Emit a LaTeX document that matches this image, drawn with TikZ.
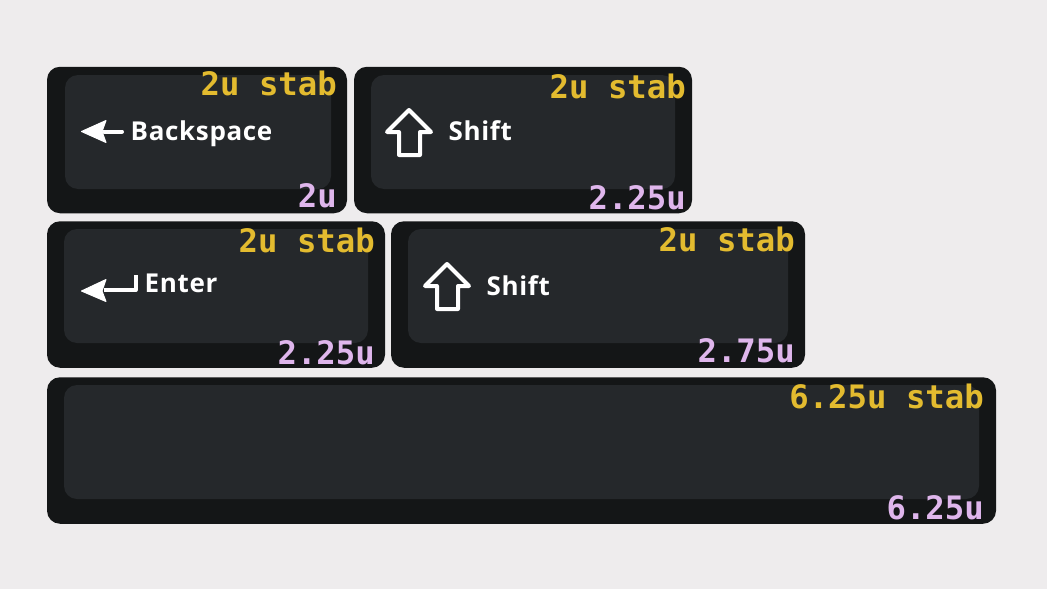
\documentclass[tikz,border=0pt]{standalone}
\usepackage{fontspec}
\setmainfont{Open Sans}[LetterSpace=2.5]
\newfontfamily\stabfont{DejaVu Sans Mono}
\definecolor{pagebg}{HTML}{EEECED}
\definecolor{capedge}{HTML}{141617}
\definecolor{captop}{HTML}{25282B}
\definecolor{stabcol}{HTML}{E3BB2F}
\definecolor{sizecol}{HTML}{DFB6EC}
\tikzset{
    keycap/.style={fill=capedge, rounded corners=13pt, inner sep=0pt, minimum height=146.5pt},
    keytop/.style={fill=captop, rounded corners=13pt, inner sep=0pt, minimum height=114pt},
    stablabel/.style={anchor=base east, inner sep=0pt, text=stabcol, font=\stabfont\bfseries\fontsize{32.3}{32}\selectfont},
    sizelabel/.style={anchor=base east, inner sep=0pt, text=sizecol, font=\stabfont\bfseries\fontsize{32.3}{32}\selectfont},
    keyname/.style={anchor=base west, inner sep=0pt, text=white, font=\bfseries\fontsize{26}{26}\selectfont},
    glyph/.style={draw=white, line width=4pt, line join=round},
    glyphhead/.style={fill=white, draw=white, line width=1pt, line join=round},
}
\begin{document}
\begin{tikzpicture}[x=1pt, y=-1pt]
    \useasboundingbox[fill=pagebg] (0,0) rectangle (1047,589);
    % key bodies
    \node[keycap, minimum width=300pt] (bkspcap) at (197,140) {};
    \node[keytop, minimum width=266pt] (bksptop) at (198,132) {};
    \node[keycap, minimum width=338pt] (lshiftcap) at (523,140) {};
    \node[keytop, minimum width=304pt] (lshifttop) at (523,132) {};
    \node[keycap, minimum width=338pt] (entercap) at (216,294.5) {};
    \node[keytop, minimum width=304pt] (entertop) at (216,286) {};
    \node[keycap, minimum width=414pt] (rshiftcap) at (598,294.5) {};
    \node[keytop, minimum width=380pt] (rshifttop) at (598,286) {};
    \node[keycap, minimum width=949pt] (spacecap) at (521.5,450.5) {};
    \node[keytop, minimum width=915pt] (spacetop) at (521.5,442) {};
    % stabilizer sizes
    \node[stablabel] (bkspstab) at (337,95) {2u stab};
    \node[stablabel] (lshiftstab) at (686,98) {2u stab};
    \node[stablabel] (enterstab) at (375,252) {2u stab};
    \node[stablabel] (rshiftstab) at (795,251) {2u stab};
    \node[stablabel] (spacestab) at (984,408) {6.25u stab};
    % key sizes
    \node[sizelabel] (bkspsize) at (337,207) {2u};
    \node[sizelabel] (lshiftsize) at (686,209) {2.25u};
    \node[sizelabel] (entersize) at (375,364) {2.25u};
    \node[sizelabel] (rshiftsize) at (795,362.5) {2.75u};
    \node[sizelabel] (spacesize) at (984,519) {6.25u};
    % legends
    \node[keyname] (bkspname) at (130.5,140) {Backspace};
    \node[keyname] (lshiftname) at (448.5,140) {Shift};
    \node[keyname] (entername) at (144.5,292) {Enter};
    \node[keyname] (rshiftname) at (486.5,295) {Shift};
    % glyphs
    \draw[glyph, line cap=round] (104,131.5) -- (122,131.5);
    \draw[glyphhead] (81.5,131.5) -- (106,120.5) -- (102,131.5) -- (106,142.5) -- cycle;
    \draw[glyph] (409,110) -- (387,132) -- (399,132) -- (399,155) -- (420,155) -- (420,132) -- (431,132) -- cycle;
    \draw[glyph] (104,290) -- (135.5,290) -- (135.5,275);
    \draw[glyphhead] (81.5,291) -- (106,279.5) -- (102,291) -- (106,301.5) -- cycle;
    \draw[glyph] (447,264) -- (425,286) -- (437,286) -- (437,309) -- (458,309) -- (458,286) -- (469,286) -- cycle;
\end{tikzpicture}
\end{document}
